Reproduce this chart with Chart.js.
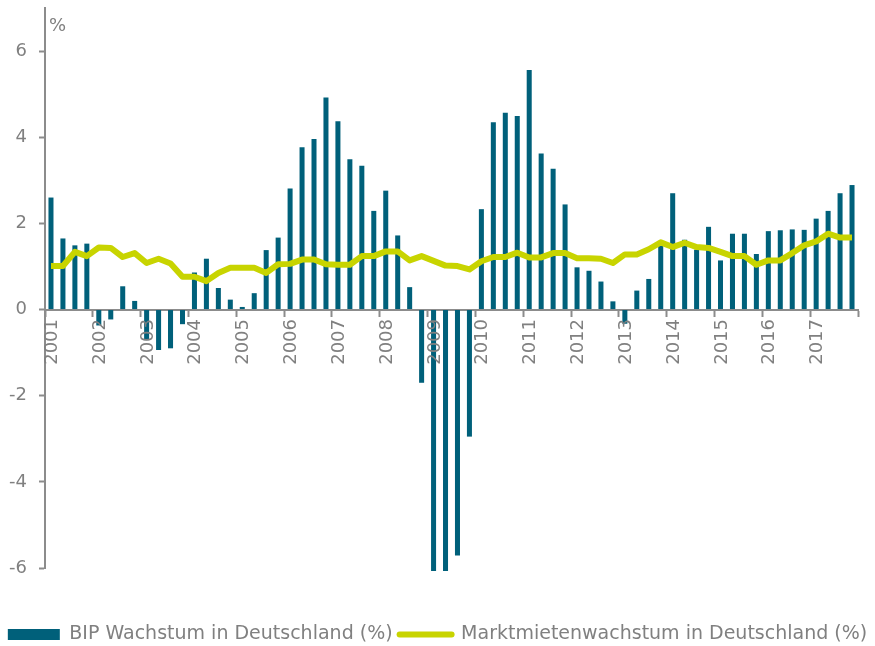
<!DOCTYPE html>
<html>
<head>
<meta charset="utf-8">
<script src="https://cdn.jsdelivr.net/npm/chart.js@4/dist/chart.umd.min.js"></script>
<style>
    body { margin: 0; background: #fff; }
    #wrap { width: 875px; height: 646px; position: relative; }
    .year {
        position: absolute;
        font: 18px "DejaVu Sans", Verdana, sans-serif;
        line-height: 22px;
        color: #808080;
        white-space: nowrap;
        writing-mode: vertical-rl;
        transform: translate(-50%, 0) rotate(180deg);
        pointer-events: none;
    }
</style>
</head>
<body>
<div id="wrap"><canvas id="chart"></canvas></div>
<script>
var years = ['2001', '2002', '2003', '2004', '2005', '2006', '2007', '2008', '2009',
             '2010', '2011', '2012', '2013', '2014', '2015', '2016', '2017'];

// BIP Wachstum, quarterly, 2001 Q1 .. 2017 Q4
var gdpGrowth = [
    2.60, 1.65, 1.49, 1.53,
    -0.37, -0.23, 0.54, 0.20,
    -0.71, -0.94, -0.90, -0.34,
    0.86, 1.18, 0.50, 0.23,
    0.06, 0.38, 1.38, 1.67,
    2.81, 3.77, 3.96, 4.92,
    4.37, 3.49, 3.34, 2.29,
    2.76, 1.72, 0.52, -1.70,
    -6.07, -6.07, -5.71, -2.95,
    2.33, 4.35, 4.57, 4.49,
    5.56, 3.62, 3.27, 2.44,
    0.98, 0.90, 0.65, 0.19,
    -0.33, 0.44, 0.71, 1.48,
    2.70, 1.62, 1.39, 1.92,
    1.14, 1.76, 1.76, 1.29,
    1.82, 1.84, 1.86, 1.85,
    2.11, 2.29, 2.70, 2.89
];

// Marktmietenwachstum, quarterly
var rentGrowth = [
    1.01, 1.01, 1.34, 1.24,
    1.44, 1.43, 1.22, 1.31,
    1.08, 1.18, 1.07, 0.76,
    0.76, 0.66, 0.85, 0.97,
    0.97, 0.97, 0.85, 1.05,
    1.06, 1.16, 1.16, 1.05,
    1.04, 1.04, 1.24, 1.24,
    1.35, 1.35, 1.14, 1.24,
    1.13, 1.02, 1.01, 0.93,
    1.12, 1.22, 1.22, 1.32,
    1.21, 1.21, 1.31, 1.31,
    1.19, 1.19, 1.18, 1.08,
    1.28, 1.28, 1.40, 1.56,
    1.45, 1.55, 1.45, 1.43,
    1.34, 1.24, 1.24, 1.04,
    1.14, 1.14, 1.31, 1.49,
    1.58, 1.76, 1.67, 1.67
];

var seriesNames = ['BIP Wachstum in Deutschland (%)', 'Marktmietenwachstum in Deutschland (%)'];
var yTicks = [-6, -4, -2, 0, 2, 4, 6];

var quarters = [];
years.forEach(function (y) {
    for (var q = 1; q <= 4; q++) quarters.push(y + ' Q' + q);
});

var grey = '#808080';
var axisGrey = '#8c8c8c';
var family = '"DejaVu Sans", Verdana, sans-serif';

// "%" unit above the y axis
var unitLabel = {
    id: 'unitLabel',
    afterDraw: function (chart) {
        var ctx = chart.ctx;
        ctx.save();
        ctx.font = '18px ' + family;
        ctx.fillStyle = grey;
        ctx.textAlign = 'left';
        ctx.textBaseline = 'alphabetic';
        ctx.fillText('%', chart.chartArea.left + 4, chart.chartArea.top + 23);
        ctx.restore();
    }
};

// vertical year labels hanging below the zero line, placed on each Q1 category
var yearLabels = {
    id: 'yearLabels',
    afterDraw: function (chart) {
        var wrap = document.getElementById('wrap');
        var xs = chart.scales.x;
        var top = chart.scales.y.getPixelForValue(0) + 6 + 3;
        years.forEach(function (yr, k) {
            var el = document.getElementById('yr' + k);
            if (!el) {
                el = document.createElement('div');
                el.id = 'yr' + k;
                el.className = 'year';
                el.textContent = yr;
                wrap.appendChild(el);
            }
            el.style.left = xs.getPixelForTick(k * 4) + 'px';
            el.style.top = top + 'px';
        });
    }
};

// push the legend down to the foot of the canvas
var legendDrop = {
    id: 'legendDrop',
    afterLayout: function (chart) {
        chart.legend.top += 50;
        chart.legend.bottom += 50;
    }
};

new Chart(document.getElementById('chart'), {
    type: 'bar',
    data: {
        labels: quarters,
        datasets: [{
            label: seriesNames[0],
            data: gdpGrowth,
            backgroundColor: '#00607a',
            borderWidth: 0,
            barPercentage: 0.42,
            categoryPercentage: 1,
            clip: false,
            order: 1
        }, {
            type: 'line',
            label: seriesNames[1],
            data: rentGrowth,
            borderColor: '#c8d400',
            backgroundColor: '#c8d400',
            borderWidth: 6,
            borderJoinStyle: 'round',
            pointRadius: 0,
            order: 0
        }]
    },
    options: {
        responsive: true,
        maintainAspectRatio: false,
        animation: false,
        layout: { padding: { top: 8, right: 0, bottom: 42, left: 0 } },
        plugins: {
            tooltip: { enabled: false },
            legend: {
                position: 'bottom',
                labels: {
                    color: grey,
                    font: { family: family, size: 19 },
                    usePointStyle: true,
                    pointStyleWidth: 52,
                    boxHeight: 11,
                    padding: 7,
                    generateLabels: function (chart) {
                        return chart.data.datasets.map(function (ds, i) {
                            var isLine = ds.type === 'line';
                            return {
                                text: ds.label,
                                fillStyle: isLine ? ds.borderColor : ds.backgroundColor,
                                strokeStyle: isLine ? ds.borderColor : ds.backgroundColor,
                                lineWidth: isLine ? 6 : 0,
                                lineCap: 'round',
                                pointStyle: isLine ? 'line' : 'rect',
                                fontColor: grey,
                                datasetIndex: i
                            };
                        });
                    }
                }
            }
        },
        scales: {
            x: {
                position: { y: 0 },
                afterFit: function (scale) { scale.height = 0; },
                grid: {
                    offset: true,
                    drawOnChartArea: false,
                    tickLength: 6,
                    tickWidth: 2,
                    tickColor: function (ctx) {
                        return (ctx.index === undefined || ctx.index % 4 === 0) ? axisGrey : 'rgba(0,0,0,0)';
                    }
                },
                border: { color: axisGrey, width: 2 },
                ticks: { display: false, autoSkip: false }
            },
            y: {
                min: -6,
                max: 7,
                afterFit: function (scale) {
                    scale.width = 45;
                    scale.paddingTop = 0;
                    scale.paddingBottom = 0;
                },
                afterBuildTicks: function (scale) {
                    scale.ticks = yTicks.map(function (v) { return { value: v }; });
                },
                grid: {
                    drawOnChartArea: false,
                    tickLength: 6,
                    tickWidth: 2,
                    tickColor: axisGrey
                },
                border: { color: axisGrey, width: 2 },
                ticks: {
                    padding: 12,
                    color: grey,
                    font: { family: family, size: 18 }
                }
            },
            // empty strip that keeps the plot clear of the right edge
            yRight: {
                position: 'right',
                afterFit: function (scale) { scale.width = 17; },
                grid: { display: false },
                border: { display: false },
                ticks: { display: false }
            }
        }
    },
    plugins: [unitLabel, yearLabels, legendDrop]
});
</script>
</body>
</html>
